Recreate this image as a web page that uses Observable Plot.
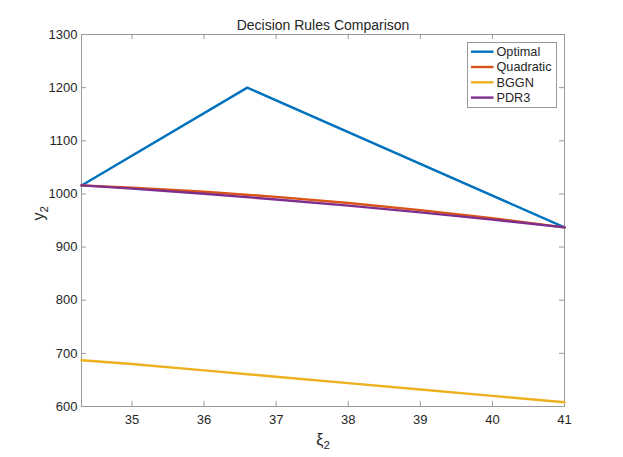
<!DOCTYPE html>
<html>
<head>
<meta charset="utf-8">
<script src="https://cdn.jsdelivr.net/npm/d3@7"></script>
<script src="https://cdn.jsdelivr.net/npm/@observablehq/plot@0.6"></script>
<style>
  html, body { margin: 0; padding: 0; background: #fff; }
</style>
</head>
<body>
<div id="chart"></div>
<script>
// ---- data ----
const titleText = "Decision Rules Comparison";
const xLabelBase = "ξ", xLabelSub = "2";
const yLabelBase = "y", yLabelSub = "2";
const seriesNames = ["Optimal", "Quadratic", "BGGN", "PDR3"];
const seriesColors = ["#0072BD", "#D95319", "#EDB120", "#7E2F8E"];

const optimalX = [34.3, 36.6, 41];
const optimalY = [1016, 1200, 937];

const gridX = [34.3, 35, 36, 37, 38, 39, 40, 41];
const quadraticY = [1016, 1011.7, 1004, 994.5, 983, 969.6, 954.3, 937];
const bggnY = [687, 680, 668, 656, 644, 632, 620, 608];
const pdr3Y = [1016, 1009.9, 1000.3, 989.6, 978, 965.3, 951.7, 937];

const xTicks = [35, 36, 37, 38, 39, 40, 41];
const yTicks = [600, 700, 800, 900, 1000, 1100, 1200, 1300];
const xDomain = [34.3, 41];
const yDomain = [600, 1300];

// ---- build table ----
const rows = [];
optimalX.forEach((x, i) => rows.push({series: "Optimal", x, y: optimalY[i]}));
gridX.forEach((x, i) => rows.push({series: "Quadratic", x, y: quadraticY[i]}));
gridX.forEach((x, i) => rows.push({series: "BGGN", x, y: bggnY[i]}));
gridX.forEach((x, i) => rows.push({series: "PDR3", x, y: pdr3Y[i]}));

const W = 623, H = 457;
const mL = 81, mR = 59, mT = 34, mB = 51;
const frameW = W - mL - mR, frameH = H - mT - mB;
const tickLen = 5;
const axisColor = "#9a9a9a";
const textColor = "#262626";
const fontFam = "'Liberation Sans', Arial, Helvetica, sans-serif";

const chart = Plot.plot({
  width: W, height: H,
  marginLeft: mL, marginRight: mR, marginTop: mT, marginBottom: mB,
  x: {domain: xDomain},
  y: {domain: yDomain},
  color: {domain: seriesNames, range: seriesColors},
  style: {fontFamily: fontFam, fontSize: "13px", color: textColor, background: "#fff"},
  marks: [
    Plot.frame({stroke: axisColor, strokeWidth: 1}),
    // inward ticks
    Plot.tickX(xTicks, {x: d => d, insetTop: frameH - tickLen, stroke: axisColor}),
    Plot.tickX(xTicks, {x: d => d, insetBottom: frameH - tickLen, stroke: axisColor}),
    Plot.tickY(yTicks, {y: d => d, insetRight: frameW - tickLen, stroke: axisColor}),
    Plot.tickY(yTicks, {y: d => d, insetLeft: frameW - tickLen, stroke: axisColor}),
    Plot.axisX(xTicks, {tickSize: 0, tickPadding: 8, label: null, fill: textColor, fontSize: 13, tickFormat: d => String(d)}),
    Plot.axisY(yTicks, {tickSize: 0, tickPadding: 4, label: null, fill: textColor, fontSize: 13, tickFormat: d => String(d)}),
    // series
    Plot.line(rows, {x: "x", y: "y", z: "series", stroke: "series", strokeWidth: 2.4, strokeLinejoin: "miter"}),
    // labels
    Plot.text([titleText], {frameAnchor: "top", dy: -9, lineAnchor: "middle", fontSize: 14, fill: textColor}),
    Plot.text([xLabelBase + xLabelSub], {frameAnchor: "bottom", dy: 33, lineAnchor: "middle", fontSize: 16, fill: textColor}),
    Plot.text([yLabelBase + yLabelSub], {frameAnchor: "left", dx: -43, rotate: -90, lineAnchor: "middle", fontSize: 16, fill: textColor})
  ]
});

document.getElementById("chart").appendChild(chart);

const svg = d3.select(chart);

// ---- turn axis labels into base + subscript ----
function subscriptify(base, sub) {
  svg.selectAll("text").filter(function() { return this.textContent === base + sub; }).each(function() {
    const t = d3.select(this);
    t.text(null);
    t.append("tspan").text(base);
    t.append("tspan").attr("font-size", "0.72em").attr("dy", "0.35em").text(sub);
  });
}
subscriptify(xLabelBase, xLabelSub);
subscriptify(yLabelBase, yLabelSub);

// ---- legend (inside axes, top-right) ----
const lgX = 467, lgY = 42, lgW = 89, lgH = 65;
const rowH = 15.3, row0 = 51.7;
const lg = svg.append("g").attr("font-family", fontFam).attr("font-size", 12.7).attr("text-anchor", "start");
lg.append("rect").attr("x", lgX + 0.5).attr("y", lgY + 0.5).attr("width", lgW).attr("height", lgH)
  .attr("fill", "#fff").attr("stroke", axisColor).attr("stroke-width", 1);
seriesNames.forEach((name, i) => {
  const yy = row0 + i * rowH;
  lg.append("line").attr("x1", 471).attr("x2", 493.5).attr("y1", yy).attr("y2", yy)
    .attr("stroke", seriesColors[i]).attr("stroke-width", 2.4);
  lg.append("text").attr("x", 496.5).attr("y", yy).attr("dy", "0.35em")
    .attr("fill", textColor).text(name);
});
</script>
</body>
</html>
